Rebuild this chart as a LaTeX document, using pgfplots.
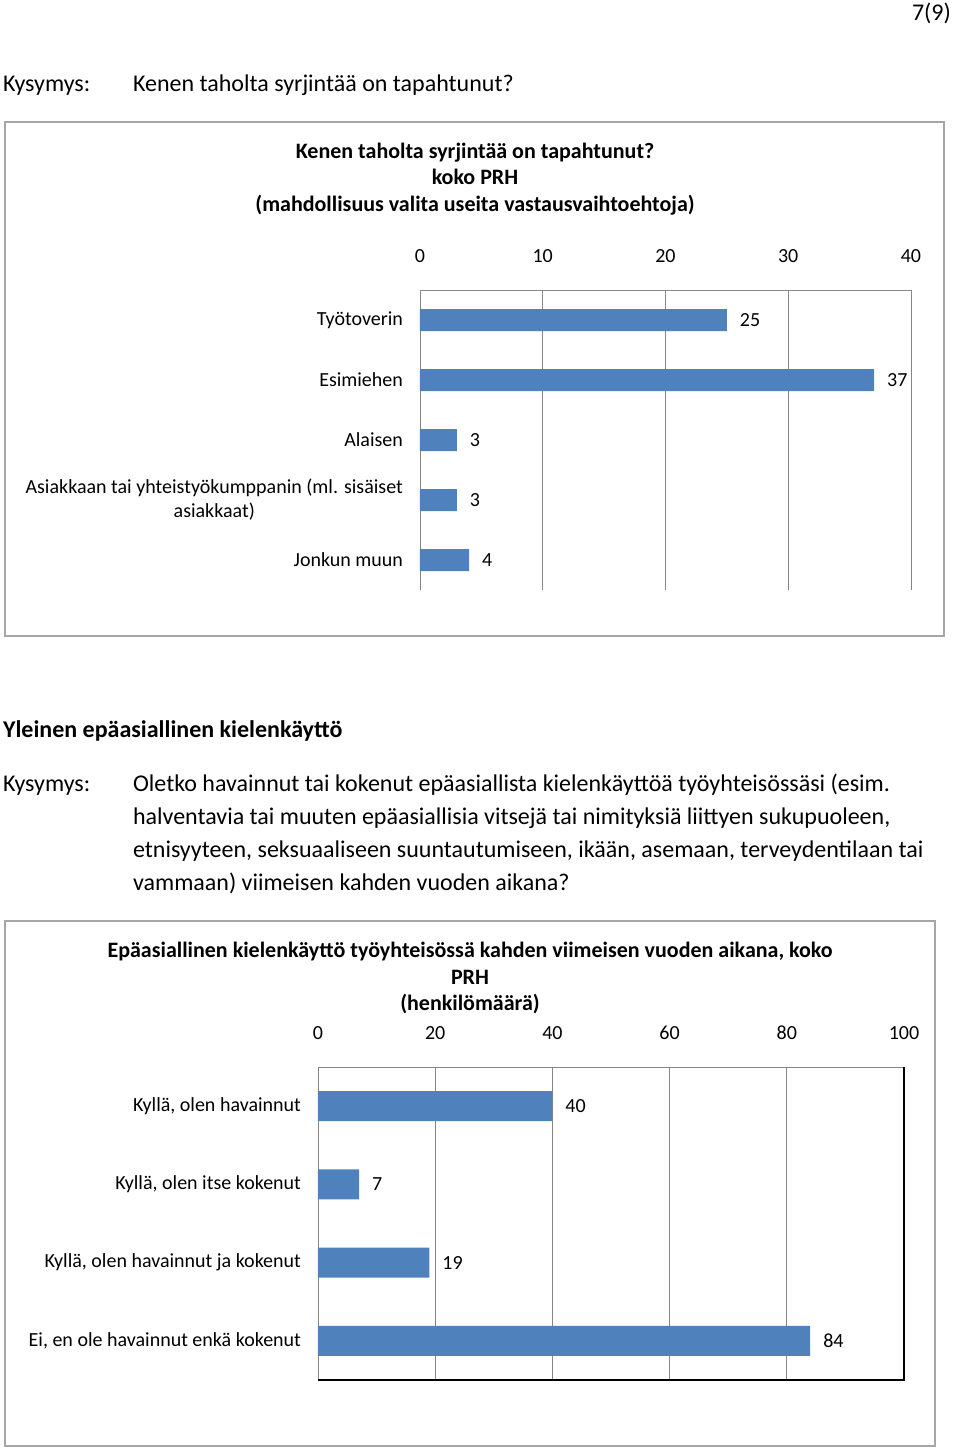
\documentclass[border=0pt]{standalone}
\usepackage{fontspec}
\setmainfont{Carlito}
\usepackage{pgfplots}
\pgfplotsset{compat=1.18}
\definecolor{barblue}{HTML}{4F81BD}
\definecolor{framegray}{HTML}{A6A6A6}
\definecolor{gridgray}{HTML}{868686}
\newcommand{\body}{\fontsize{12}{16.5}\selectfont}
\newcommand{\chart}{\fontsize{10}{12}\selectfont}

\pgfplotsset{
  pagebar/.style={
    scale only axis, xbar, bar width=#1,
    /pgf/number format/assume math mode=true,
    axis line style={gridgray}, major grid style={gridgray},
    xmajorgrids, major tick length=0pt,
    tick label style={font=\chart, text=black},
    yticklabel style={align=center, xshift=-5pt},
    nodes near coords, nodes near coords align={horizontal},
    every node near coord/.append style={font=\chart, text=black, xshift=3pt},
  }
}

\begin{document}
\begin{tikzpicture}[x=0.5pt,y=0.5pt]
\path[use as bounding box] (0,0) rectangle (960,-1448);
\coordinate (orgA) at (420,-590);
\coordinate (orgB) at (318,-1380);

\node[anchor=mid east, font=\body] at (958,-16) {7(9)};
\node[anchor=mid west, font=\body] at (-4,-87) {Kysymys:};
\node[anchor=mid west, font=\body] at (126,-87) {Kenen taholta syrjintää on tapahtunut?};

% first chart
\draw[framegray, line width=1pt] (5,-122) rectangle (944,-636);
\node[font=\fontsize{11}{13.25}\selectfont\bfseries, align=center] at (475,-179)
  {Kenen taholta syrjintää on tapahtunut?\\koko PRH\\(mahdollisuus valita useita vastausvaihtoehtoja)};

\begin{axis}[pagebar=11pt,
  at={(orgA)}, anchor=south west,
  width=245.5pt, height=150pt,
  xmin=0, xmax=40, ymin=-0.5, ymax=4.5,
  axis x line*=top, axis y line*=left,
  xtick={0,10,20,30,40},
  xticklabel style={yshift=10pt},
  ytick={0,1,2,3,4},
  yticklabels={Jonkun muun, {Asiakkaan tai yhteistyökumppanin (ml. sisäiset\\asiakkaat)}, Alaisen, Esimiehen, Työtoverin},
]
\addplot[fill=barblue, draw=none] coordinates {
  (25,4)
  (37,3)
  (3,2)
  (3,1)
  (4,0)
};
\end{axis}

% second section
\node[anchor=mid west, font=\fontsize{12}{14}\selectfont\bfseries] at (-4,-733) {Yleinen epäasiallinen kielenkäyttö};
\node[anchor=mid west, font=\body] at (-4,-787) {Kysymys:};
\node[anchor=mid west, font=\body] at (126,-787) {Oletko havainnut tai kokenut epäasiallista kielenkäyttöä työyhteisössäsi (esim.};
\node[anchor=mid west, font=\body] at (126,-820) {halventavia tai muuten epäasiallisia vitsejä tai nimityksiä liittyen sukupuoleen,};
\node[anchor=mid west, font=\body] at (126,-853) {etnisyyteen, seksuaaliseen suuntautumiseen, ikään, asemaan, terveydentilaan tai};
\node[anchor=mid west, font=\body] at (126,-886) {vammaan) viimeisen kahden vuoden aikana?};

% second chart
\draw[framegray, line width=1pt] (5,-921) rectangle (935,-1446);
\node[font=\fontsize{11}{13.25}\selectfont\bfseries, align=center] at (470,-978)
  {Epäasiallinen kielenkäyttö työyhteisössä kahden viimeisen vuoden aikana, koko\\PRH\\(henkilömäärä)};

\begin{axis}[pagebar=15pt,
  at={(orgB)}, anchor=south west,
  width=293pt, height=156.5pt,
  xmin=0, xmax=100, ymin=-0.5, ymax=3.5,
  xticklabel pos=top,
  xtick={0,20,40,60,80,100},
  xticklabel style={yshift=10pt},
  ytick={0,1,2,3},
  yticklabels={{Ei, en ole havainnut enkä kokenut}, {Kyllä, olen havainnut ja kokenut}, {Kyllä, olen itse kokenut}, {Kyllä, olen havainnut}},
  after end axis/.code={\draw[black, line width=0.8pt] (rel axis cs:0,0) -- (rel axis cs:1,0) -- (rel axis cs:1,1);},
]
\addplot[fill=barblue, draw=none] coordinates {
  (40,3)
  (7,2)
  (19,1)
  (84,0)
};
\end{axis}
\end{tikzpicture}
\end{document}
